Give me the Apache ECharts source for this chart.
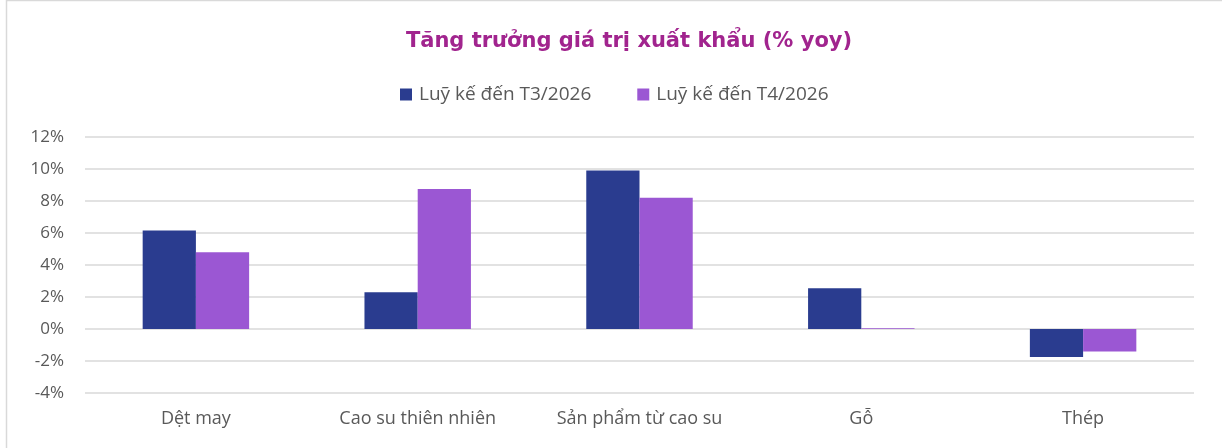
<!DOCTYPE html>
<html>
<head>
<meta charset="utf-8">
<script src="https://cdn.jsdelivr.net/npm/echarts@6/dist/echarts.min.js"></script>
<style>
  html, body { margin: 0; padding: 0; background: #fff; }
  #chart { width: 1222px; height: 448px; }
</style>
</head>
<body>
<div id="chart"></div>
<script>
const categories = ['Dệt may', 'Cao su thiên nhiên', 'Sản phẩm từ cao su', 'Gỗ', 'Thép'];
const seriesNames = ['Luỹ kế đến T3/2026', 'Luỹ kế đến T4/2026'];
const valuesT3 = [6.15, 2.3, 9.9, 2.55, -1.75];
const valuesT4 = [4.8, 8.75, 8.2, 0.05, -1.4];

const COLORS = ['#2A3C8F', '#9B57D3'];
const TEXT = '#595959';
const FONT = 'Open Sans';

const chart = echarts.init(document.getElementById('chart'));

chart.setOption({
  animation: false,
  title: {
    text: 'Tăng trưởng giá trị xuất khẩu (% yoy)',
    left: 624,
    top: 26,
    textAlign: 'center',
    textStyle: { fontFamily: 'DejaVu Sans', fontSize: 21, fontWeight: 'bold', color: '#A1248E' }
  },
  legend: {
    data: seriesNames,
    top: 80,
    left: 395,
    itemWidth: 12,
    itemHeight: 12,
    itemGap: 46,
    icon: 'rect',
    textStyle: { fontFamily: FONT, fontSize: 19, color: TEXT, padding: [0, 0, 0, 2] }
  },
  grid: { left: 85, right: 28, top: 137, bottom: 55 },
  xAxis: {
    type: 'category',
    data: categories,
    axisLine: { show: false },
    axisTick: { show: false },
    axisLabel: { fontFamily: FONT, fontSize: 18, color: TEXT, margin: 17 }
  },
  yAxis: {
    type: 'value',
    min: -4,
    max: 12,
    interval: 2,
    axisLine: { show: false },
    axisTick: { show: false },
    splitLine: { lineStyle: { color: '#D9D9D9', width: 1.5 } },
    axisLabel: {
      fontFamily: FONT, fontSize: 17, color: TEXT, margin: 21,
      formatter: v => v + '%'
    }
  },
  series: [
    {
      name: seriesNames[0], type: 'bar', data: valuesT3,
      itemStyle: { color: COLORS[0] },
      barGap: '0%', barCategoryGap: '52%'
    },
    {
      name: seriesNames[1], type: 'bar', data: valuesT4,
      itemStyle: { color: COLORS[1] },
      barGap: '0%', barCategoryGap: '52%'
    }
  ],
  graphic: [{
    type: 'rect',
    shape: { x: 6.5, y: 0.5, width: 1222, height: 460 },
    style: { fill: 'none', stroke: '#D9D9D9', lineWidth: 1.5 },
    silent: true
  }]
});
</script>
</body>
</html>
